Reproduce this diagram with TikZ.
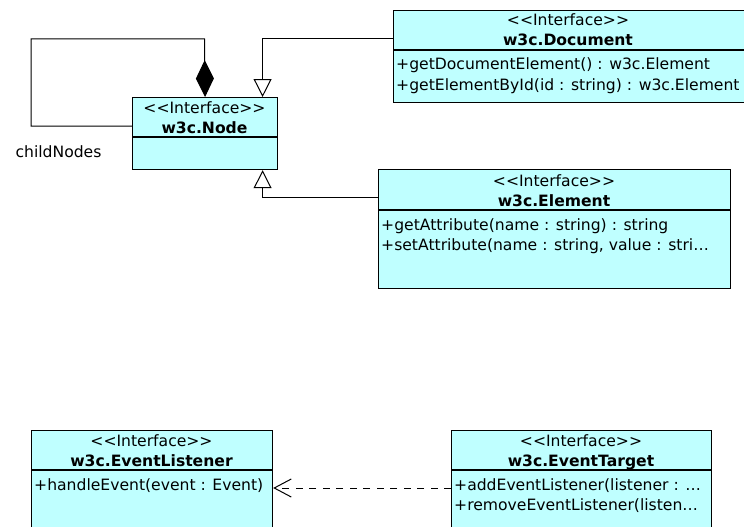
\documentclass[tikz,border=0pt]{standalone}
\usepackage{fontspec}
\setmainfont{DejaVu Sans}
\usetikzlibrary{arrows.meta}
\definecolor{umlfill}{RGB}{191,255,255}
\newcommand{\stereo}{{\textless}\kern0pt{\textless}Interface{\textgreater}\kern0pt{\textgreater}}
\begin{document}
\begin{tikzpicture}[x=1pt,y=-1pt,
  font=\fontsize{15.6}{19}\selectfont,
  box/.style={draw=black, fill=umlfill, line width=1.2pt, anchor=north west, inner sep=0pt},
  txt/.style={anchor=base, inner sep=0pt},
  bold/.style={txt, font=\fontsize{15.6}{19}\selectfont\bfseries},
  mtxt/.style={anchor=base west, inner sep=0pt},
  conn/.style={line width=1pt, draw=black},
  divider/.style={line width=1.1pt}]
\useasboundingbox (0,0) rectangle (744,527);
\clip (0,0) rectangle (744,527);

% w3c.Node
\node[box, minimum width=145pt, minimum height=72pt] (node) at (132,97) {};
\draw[divider] ([yshift=-40pt]node.north west) -- ([yshift=-40pt]node.north east);
\node[txt] (nodeS) at (204.5,113) {\stereo};
\node[bold] (nodeN) at (204.5,133) {w3c.Node};

% w3c.Document
\node[box, minimum width=352pt, minimum height=92pt] (doc) at (393,10) {};
\draw[divider] ([yshift=-40pt]doc.north west) -- ([yshift=-40pt]doc.north east);
\node[txt] (docS) at (568,26) {\stereo};
\node[bold] (docN) at (568,46) {w3c.Document};
\node[mtxt] (docM1) at (396,70) {+getDocumentElement() : w3c.Element};
\node[mtxt] (docM2) at (396,90) {+getElementById(id : string) : w3c.Element};

% w3c.Element
\node[box, minimum width=352pt, minimum height=119pt] (elem) at (378,169) {};
\draw[divider] ([yshift=-41pt]elem.north west) -- ([yshift=-41pt]elem.north east);
\node[txt] (elemS) at (554,186) {\stereo};
\node[bold] (elemN) at (554,206) {w3c.Element};
\node[mtxt] (elemM1) at (381,230) {+getAttribute(name : string) : string};
\node[mtxt] (elemM2) at (381,250) {+setAttribute(name : string, value : stri\dots};

% w3c.EventListener
\node[box, minimum width=241pt, minimum height=120pt] (lst) at (31,430) {};
\draw[divider] ([yshift=-40pt]lst.north west) -- ([yshift=-40pt]lst.north east);
\node[txt] (lstS) at (151.5,446) {\stereo};
\node[bold] (lstN) at (151.5,466) {w3c.EventListener};
\node[mtxt] (lstM1) at (34,490) {+handleEvent(event : Event)};

% w3c.EventTarget
\node[box, minimum width=260pt, minimum height=120pt] (tgt) at (451,430) {};
\draw[divider] ([yshift=-40pt]tgt.north west) -- ([yshift=-40pt]tgt.north east);
\node[txt] (tgtS) at (581,446) {\stereo};
\node[bold] (tgtN) at (581,466) {w3c.EventTarget};
\node[mtxt] (tgtM1) at (454,490) {+addEventListener(listener : \dots};
\node[mtxt] (tgtM2) at (454,510) {+removeEventListener(listen\dots};

% self composition childNodes
\draw[conn, -{Diamond[length=37pt,width=18pt,fill=black]}]
  ([yshift=-29pt]node.north west) -- (31,126) -- (31,39) -- (204.5,39) -- (node.north);
\node[txt] (childlbl) at (58.5,157) {childNodes};

% generalizations
\draw[conn, -{Triangle[open,length=18pt,width=18pt]}]
  ([yshift=-29pt]doc.north west) -| ([xshift=57.5pt]node.north);
\draw[conn, -{Triangle[open,length=18pt,width=18pt]}]
  ([yshift=-28pt]elem.north west) -| ([xshift=57.5pt]node.south);

% dependency
\draw[conn, dash pattern=on 7pt off 6.5pt, -{Straight Barb[length=17pt,width=18pt]}]
  ([yshift=-58pt]tgt.north west) -- ([yshift=-58pt]lst.north east);
\end{tikzpicture}
\end{document}
